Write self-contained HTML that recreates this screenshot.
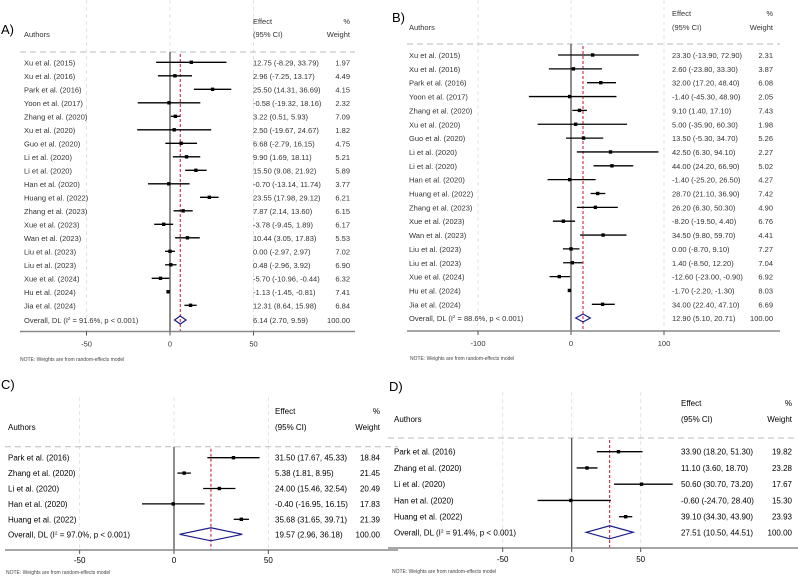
<!DOCTYPE html>
<html><head><meta charset="utf-8"><style>
body{margin:0;background:#fff;}
svg{display:block;font-family:"Liberation Sans",Arial,sans-serif;}
</style></head><body>
<svg id="chart" width="798" height="576" viewBox="0 0 798 576" xmlns="http://www.w3.org/2000/svg"></svg>
<script>
// ---------- Data ----------
const authorsAB = ["Xu et al. (2015)","Xu et al. (2016)","Park et al. (2016)","Yoon et al. (2017)","Zhang et al. (2020)","Xu et al. (2020)","Guo et al. (2020)","Li et al. (2020)","Li et al. (2020)","Han et al. (2020)","Huang et al. (2022)","Zhang et al. (2023)","Xue et al. (2023)","Wan et al. (2023)","Liu et al. (2023)","Liu et al. (2023)","Xue et al. (2024)","Hu et al. (2024)","Jia et al. (2024)"];
const effA = [12.75,2.96,25.50,-0.58,3.22,2.50,6.68,9.90,15.50,-0.70,23.55,7.87,-3.78,10.44,0.00,0.48,-5.70,-1.13,12.31];
const lowA = [-8.29,-7.25,14.31,-19.32,0.51,-19.67,-2.79,1.69,9.08,-13.14,17.98,2.14,-9.45,3.05,-2.97,-2.96,-10.96,-1.45,8.64];
const highA = [33.79,13.17,36.69,18.16,5.93,24.67,16.15,18.11,21.92,11.74,29.12,13.60,1.89,17.83,2.97,3.92,-0.44,-0.81,15.98];
const wtA = [1.97,4.49,4.15,2.32,7.09,1.82,4.75,5.21,5.89,3.77,6.21,6.15,6.17,5.53,7.02,6.90,6.32,7.41,6.84];
const overallA = [6.14,2.70,9.59];
const i2A = "91.6%";
const ticksA = [-50,0,50];

const effB = [23.30,2.60,32.00,-1.40,9.10,5.00,13.50,42.50,44.00,-1.40,28.70,26.20,-8.20,34.50,0.00,1.40,-12.60,-1.70,34.00];
const lowB = [-13.90,-23.80,17.20,-45.30,1.40,-35.90,-5.30,6.30,24.20,-25.20,21.10,6.30,-19.50,9.80,-8.70,-8.50,-23.00,-2.20,22.40];
const highB = [72.90,33.30,48.40,48.90,17.10,60.30,34.70,94.10,66.90,26.50,36.90,50.30,4.40,59.70,9.10,12.20,-0.90,-1.30,47.10];
const wtB = [2.31,3.87,6.08,2.05,7.43,1.98,5.26,2.27,5.02,4.27,7.42,4.90,6.76,4.41,7.27,7.04,6.92,8.03,6.69];
const overallB = [12.90,5.10,20.71];
const i2B = "88.6%";
const ticksB = [-100,0,100];

const authorsCD = ["Park et al. (2016)","Zhang et al. (2020)","Li et al. (2020)","Han et al. (2020)","Huang et al. (2022)"];
const effC = [31.50,5.38,24.00,-0.40,35.68];
const lowC = [17.67,1.81,15.46,-16.95,31.65];
const highC = [45.33,8.95,32.54,16.15,39.71];
const wtC = [18.84,21.45,20.49,17.83,21.39];
const overallC = [19.57,2.96,36.18];
const i2C = "97.0%";
const ticksC = [-50,0,50];

const effD = [33.90,11.10,50.60,-0.60,39.10];
const lowD = [18.20,3.60,30.70,-24.70,34.30];
const highD = [51.30,18.70,73.20,28.40,43.90];
const wtD = [19.82,23.28,17.67,15.30,23.93];
const overallD = [27.51,10.50,44.51];
const i2D = "91.4%";
const ticksD = [-50,0,50];

// ---------- Drawing ----------
const svg = document.getElementById('chart');
const NS = "http://www.w3.org/2000/svg";
function mk(tag, attrs, parent){
  const e = document.createElementNS(NS, tag);
  for (const k in attrs) e.setAttribute(k, attrs[k]);
  (parent||svg).appendChild(e);
  return e;
}
function txt(x,y,s,fs,anchor,parent,fill,weight){
  const t = mk('text',{x:x,y:y,'font-size':fs,'text-anchor':anchor||'start',fill:fill||'#333','font-weight':weight||'normal'},parent);
  t.textContent = s;
  return t;
}

function panel(cfg){
  const g = mk('g',{});
  
  
  const X = v => cfg.x0 + v*cfg.k;
  const rowY = i => cfg.y0 + i*cfg.dy;
  const n = cfg.authors.length;
  const oy = cfg.oy;
  cfg.ticks.forEach(t=>{
    const l = mk('line',{x1:X(t),x2:X(t),y1:cfg.top,y2:cfg.axisY,stroke:'#ddd','stroke-dasharray':'4,3','stroke-width':0.8},g);
    
    
  });
  const lab = txt(cfg.labX,cfg.labY,cfg.label,13,'start',g,'#000');
  
  
  txt(cfg.authX,cfg.hy2,'Authors',cfg.fs,'start',g,cfg.col,cfg.fw);
  txt(cfg.effX,cfg.hy1,'Effect',cfg.fs,'start',g,cfg.col,cfg.fw);
  txt(cfg.effX,cfg.hy2,'(95% CI)',cfg.fs,'start',g,cfg.col,cfg.fw);
  txt(cfg.wX,cfg.hy1,'%',cfg.fs,'end',g,cfg.col,cfg.fw);
  txt(cfg.wX,cfg.hy2,'Weight',cfg.fs,'end',g,cfg.col,cfg.fw);
  const hl = mk('line',{x1:cfg.axL,x2:cfg.axR,y1:cfg.hLine,y2:cfg.hLine,stroke:'#bbb','stroke-dasharray':'6,4','stroke-width':1},g);
  
  
  const zl = mk('line',{x1:X(0),x2:X(0),y1:cfg.hLine,y2:cfg.axisY,stroke:'#444','stroke-width':1.2},g);
  
  
  const ol = mk('line',{x1:X(cfg.overall[0]),x2:X(cfg.overall[0]),y1:cfg.hLine+2,y2:cfg.axisY,stroke:'#c8102e','stroke-dasharray':'3,2','stroke-width':1},g);
  
  
  for(let i=0;i<n;i++){
    const y = rowY(i);
    const a = txt(cfg.authX,y+3,cfg.authors[i],cfg.fs,'start',g,cfg.col,cfg.fw);
    
    
    const ci = mk('line',{x1:X(cfg.low[i]),x2:X(cfg.high[i]),y1:y,y2:y,stroke:'#000','stroke-width':1.3},g);
    
    
    const sq = mk('rect',{x:X(cfg.eff[i])-1.7,y:y-1.7,width:3.4,height:3.4,fill:'#000'},g);
    
    
    const s = cfg.eff[i].toFixed(2)+' ('+cfg.low[i].toFixed(2)+', '+cfg.high[i].toFixed(2)+')';
    const e = txt(cfg.effX,y+3,s,cfg.fs,'start',g,cfg.col,cfg.fw);
    
    
    const w = txt(cfg.wX,y+3,cfg.wt[i].toFixed(2),cfg.fs,'end',g,cfg.col,cfg.fw);
    
    
  }
  const ot = mk('text',{x:cfg.authX,y:oy+3,'font-size':cfg.fs,fill:cfg.col,'font-weight':cfg.fw},g);
  ot.innerHTML = 'Overall, DL (I<tspan dy="-3" font-size="'+(cfg.fs*0.6)+'">2</tspan><tspan dy="3"> = '+cfg.i2+', p &lt; 0.001)</tspan>';
  
  
  const [m,lo,hi] = cfg.overall;
  const dm = mk('polygon',{points:`${X(lo)},${oy} ${X(m)},${oy-cfg.dh} ${X(hi)},${oy} ${X(m)},${oy+cfg.dh}`,fill:'none',stroke:'#1a1a8c','stroke-width':1.2},g);
  
  
  txt(cfg.effX,oy+3,m.toFixed(2)+' ('+lo.toFixed(2)+', '+hi.toFixed(2)+')',cfg.fs,'start',g,cfg.col,cfg.fw);
  txt(cfg.wX,oy+3,'100.00',cfg.fs,'end',g,cfg.col,cfg.fw);
  const ax = mk('line',{x1:cfg.axL,x2:cfg.axR,y1:cfg.axisY,y2:cfg.axisY,stroke:'#888','stroke-width':1.5},g);
  
  
  cfg.ticks.forEach(t=>{
    const tk = mk('line',{x1:X(t),x2:X(t),y1:cfg.axisY,y2:cfg.axisY+4,stroke:'#555','stroke-width':1},g);
    
    
    const tl = txt(X(t),cfg.axisY+cfg.tickOff,String(t),cfg.fs,'middle',g,cfg.col);
    
    
  });
  const nt = txt(cfg.noteX,cfg.noteY,'NOTE: Weights are from random-effects model',5,'start',g,'#444');
  
  
}

panel({name:'panel-a',label:'A)',labX:1,labY:34,authors:authorsAB,eff:effA,low:lowA,high:highA,wt:wtA,overall:overallA,i2:i2A,ticks:ticksA,
  x0:170,k:1.67,y0:62.3,dy:13.5,oy:320,top:0,axisY:331.5,hLine:52,axL:20,axR:355,authX:24,effX:253,wX:350,hy1:24,hy2:37,fs:7.5,col:'#333',fw:'normal',dh:4,tickOff:15,noteX:20,noteY:361});
panel({name:'panel-b',label:'B)',labX:392,labY:22,authors:authorsAB,eff:effB,low:lowB,high:highB,wt:wtB,overall:overallB,i2:i2B,ticks:ticksB,
  x0:571,k:0.93,y0:55,dy:13.85,oy:318,top:0,axisY:331,hLine:44,axL:407,axR:780,authX:409,effX:672,wX:773,hy1:16,hy2:30,fs:7.5,col:'#333',fw:'normal',dh:4,tickOff:15,noteX:410,noteY:360});
panel({name:'panel-c',label:'C)',labX:1,labY:389,authors:authorsCD,eff:effC,low:lowC,high:highC,wt:wtC,overall:overallC,i2:i2C,ticks:ticksC,
  x0:174,k:1.887,y0:457.7,dy:15.4,oy:534.3,top:397,axisY:550,hLine:446.7,axL:5,axR:398,authX:8,effX:275,wX:380,hy1:414,hy2:430,fs:8,col:'#000',fw:'normal',dh:6.5,tickOff:13,noteX:6,noteY:574});
panel({name:'panel-d',label:'D)',labX:389,labY:391,authors:authorsCD,eff:effD,low:lowD,high:highD,wt:wtD,overall:overallD,i2:i2D,ticks:ticksD,
  x0:571.7,k:1.38,y0:451.7,dy:16.25,oy:532.3,top:392,axisY:548,hLine:438,axL:388,axR:798,authX:394,effX:681,wX:792,hy1:406,hy2:422,fs:8,col:'#000',fw:'normal',dh:6.5,tickOff:14,noteX:392,noteY:573});
</script>
</body></html>
